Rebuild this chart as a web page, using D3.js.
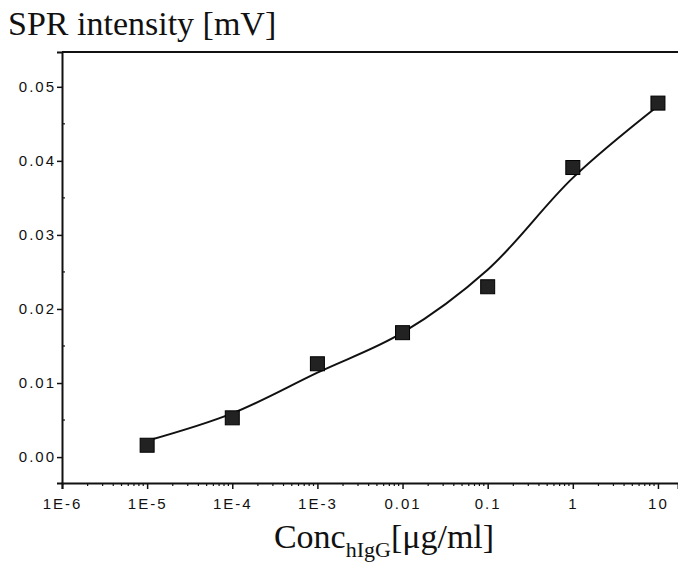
<!DOCTYPE html>
<html>
<head>
<meta charset="utf-8">
<script src="https://cdn.jsdelivr.net/npm/d3@7"></script>
<style>
  body { margin: 0; background: #fff; }
  svg { display: block; }
  .tick-label { font-family: "Liberation Sans", Arial, sans-serif; font-size: 15px; letter-spacing: 2px; fill: #111; }
</style>
</head>
<body>
<svg id="chart" width="678" height="573"></svg>
<script>
// measured concentrations (ug/ml) and SPR signal (mV)
var conc = [1e-5, 1e-4, 1e-3, 0.01, 0.1, 1, 10];
var signal = [0.0016, 0.0053, 0.0126, 0.0168, 0.0230, 0.0391, 0.0478];

// fitted curve
var fitConc = [1e-5, 1e-4, 1e-3, 0.01, 0.1, 1, 10];
var fitSignal = [0.0022, 0.0059, 0.0114, 0.0168, 0.0253, 0.0377, 0.0474];

// axis ticks
var xTicks = [1e-6, 1e-5, 1e-4, 1e-3, 0.01, 0.1, 1, 10];
var xTickLabels = ["1E-6", "1E-5", "1E-4", "1E-3", "0.01", "0.1", "1", "10"];
var yTicks = [0, 0.01, 0.02, 0.03, 0.04, 0.05];
var yTickLabels = ["0.00", "0.01", "0.02", "0.03", "0.04", "0.05"];

var svg = d3.select("#chart");

var mLeft = 62, mRight = 678, mTop = 52, mBottom = 483;

var x = d3.scaleLog().domain([1e-6, 17.2]).range([mLeft, mRight]);
var y = d3.scaleLinear().domain([-0.0035, 0.0547]).range([mBottom, mTop]);

// frame: top line
svg.append("line")
  .attr("x1", mLeft).attr("x2", mRight)
  .attr("y1", mTop).attr("y2", mTop)
  .attr("stroke", "#111").attr("stroke-width", 2);

// minor ticks on x
var minor = [];
for (var e = -6; e <= 1; e++) {
  for (var m = 2; m <= 9; m++) {
    var v = m * Math.pow(10, e);
    if (v < 17.2) minor.push(v);
  }
}

var xAxis = d3.axisBottom(x)
  .tickValues(xTicks)
  .tickSize(6)
  .tickFormat(function(d, i) { return xTickLabels[i]; });

var gx = svg.append("g")
  .attr("transform", "translate(0," + mBottom + ")")
  .call(xAxis);
gx.select(".domain").attr("stroke", "#111").attr("stroke-width", 2);
gx.selectAll(".tick line").attr("stroke", "#111").attr("stroke-width", 1.5);
gx.selectAll(".tick text").attr("class", "tick-label").attr("dy", "1.1em");

svg.append("g")
  .attr("transform", "translate(0," + mBottom + ")")
  .selectAll("line")
  .data(minor)
  .enter()
  .append("line")
  .attr("x1", function(d) { return x(d); })
  .attr("x2", function(d) { return x(d); })
  .attr("y1", 0).attr("y2", 3)
  .attr("stroke", "#111").attr("stroke-width", 1.2);

var yAxis = d3.axisLeft(y)
  .tickValues(yTicks)
  .tickSize(5)
  .tickFormat(function(d, i) { return yTickLabels[i]; });

var gy = svg.append("g")
  .attr("transform", "translate(" + mLeft + ",0)")
  .call(yAxis);
gy.select(".domain").attr("stroke", "#111").attr("stroke-width", 2);
gy.selectAll(".tick line").attr("stroke", "#111").attr("stroke-width", 1.5);
gy.selectAll(".tick text").attr("class", "tick-label").attr("x", -6);

// small inner ticks on y at half steps
svg.append("g")
  .selectAll("line")
  .data([0.005, 0.015, 0.025, 0.035, 0.045])
  .enter()
  .append("line")
  .attr("x1", mLeft).attr("x2", mLeft + 3)
  .attr("y1", function(d) { return y(d); })
  .attr("y2", function(d) { return y(d); })
  .attr("stroke", "#111").attr("stroke-width", 1.2);

// fitted line
var line = d3.line()
  .x(function(d) { return x(d[0]); })
  .y(function(d) { return y(d[1]); })
  .curve(d3.curveCatmullRom);

svg.append("path")
  .datum(d3.zip(fitConc, fitSignal))
  .attr("d", line)
  .attr("fill", "none")
  .attr("stroke", "#111")
  .attr("stroke-width", 2);

// data points
var s = 14;
svg.selectAll(".dot")
  .data(d3.zip(conc, signal))
  .enter()
  .append("rect")
  .attr("class", "dot")
  .attr("x", function(d) { return x(d[0]) - s / 2; })
  .attr("y", function(d) { return y(d[1]) - s / 2; })
  .attr("width", s).attr("height", s)
  .attr("fill", "#222")
  .attr("stroke", "#000").attr("stroke-width", 1);

// titles
svg.append("text")
  .attr("x", 8).attr("y", 35)
  .attr("font-family", "'Liberation Serif', 'Times New Roman', serif")
  .attr("font-size", 34)
  .attr("fill", "#111")
  .text("SPR intensity [mV]");

var xl = svg.append("text")
  .attr("x", 384).attr("y", 548)
  .attr("text-anchor", "middle")
  .attr("font-family", "'Liberation Serif', 'Times New Roman', serif")
  .attr("font-size", 34)
  .attr("fill", "#111");
xl.append("tspan").text("Conc");
xl.append("tspan").attr("font-size", 22).attr("dy", 9).text("hIgG");
xl.append("tspan").attr("dy", -9).text("[μg/ml]");
</script>
</body>
</html>
